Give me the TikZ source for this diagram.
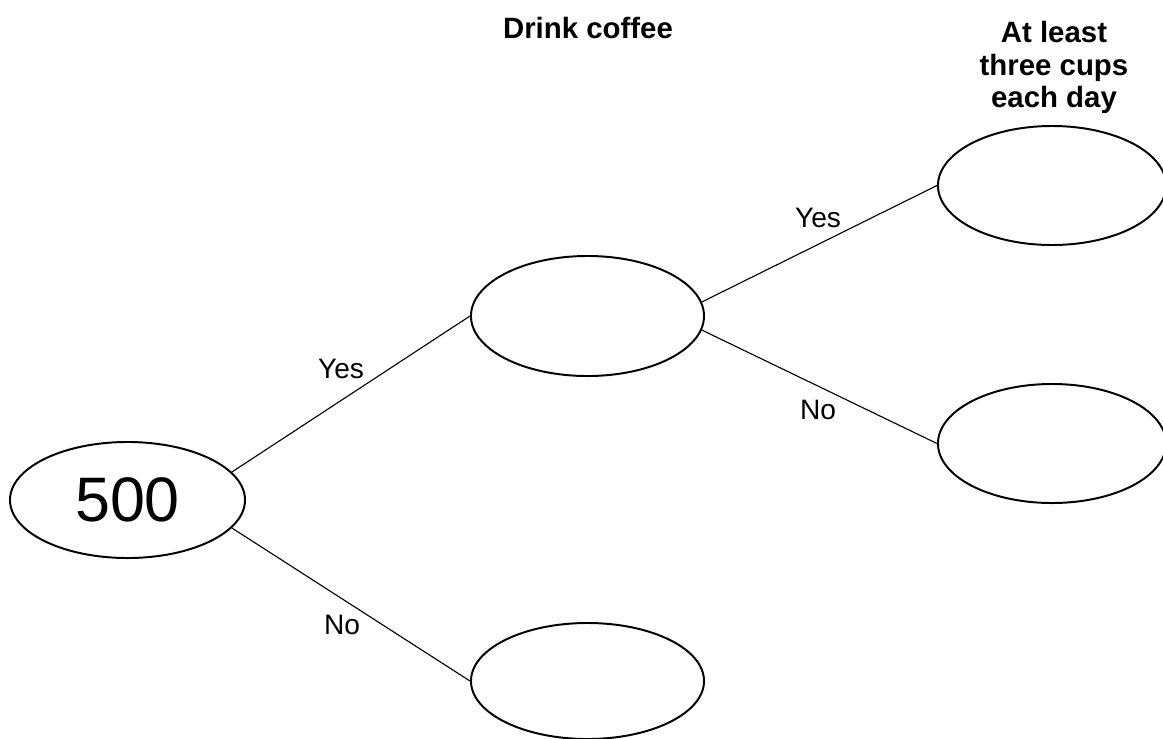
\documentclass[tikz,border=0pt]{standalone}
\usepackage{fontspec}
\setmainfont{Liberation Sans}
\usetikzlibrary{shapes.geometric}

\begin{document}
\begin{tikzpicture}[x=0.025cm, y=-0.025cm, line width=0.8pt,
        circ/.style={draw, ellipse, line width=1.4pt, inner sep=0pt},
        lbl/.style={anchor=base, font=\fontsize{20}{24}\selectfont},
        head/.style={font=\bfseries\fontsize{20.9}{23}\selectfont}]
        \useasboundingbox (0,0) rectangle (1163,738);
        \clip (0,0) rectangle (1163,738);

        \node[circ, minimum width=5.875cm, minimum height=2.9cm, font=\fontsize{44.7}{50}\selectfont] (N0) at (127.5,500) {500};
        \node[circ, minimum width=5.825cm, minimum height=3cm] (Cy) at (587.5,316) {};
        \node[circ, minimum width=5.825cm, minimum height=2.9cm] (Cn) at (587.5,681) {};
        \node[circ, minimum width=5.7cm, minimum height=2.975cm] (Cyy) at (1052,185.5) {};
        \node[circ, minimum width=5.7cm, minimum height=2.975cm] (Cyn) at (1052,443.5) {};

        \draw (N0.15) -- (Cy.west);
        \draw (N0.-15) -- (Cn.west);
        \draw (Cy.7) -- (Cyy.west);
        \draw (Cy.-7) -- (Cyn.west);

        \node[lbl] (L1) at (341,378) {Yes};
        \node[lbl] (L2) at (342,634) {No};
        \node[lbl] (L3) at (818,227) {Yes};
        \node[lbl] (L4) at (818,419) {No};

        \node[head, anchor=base] (H1) at (588,38) {Drink coffee};
        \node[head, anchor=north, inner sep=0pt, align=center] (H2) at (1054,21) {At least\\three cups\\each day};
    \end{tikzpicture}
\end{document}
